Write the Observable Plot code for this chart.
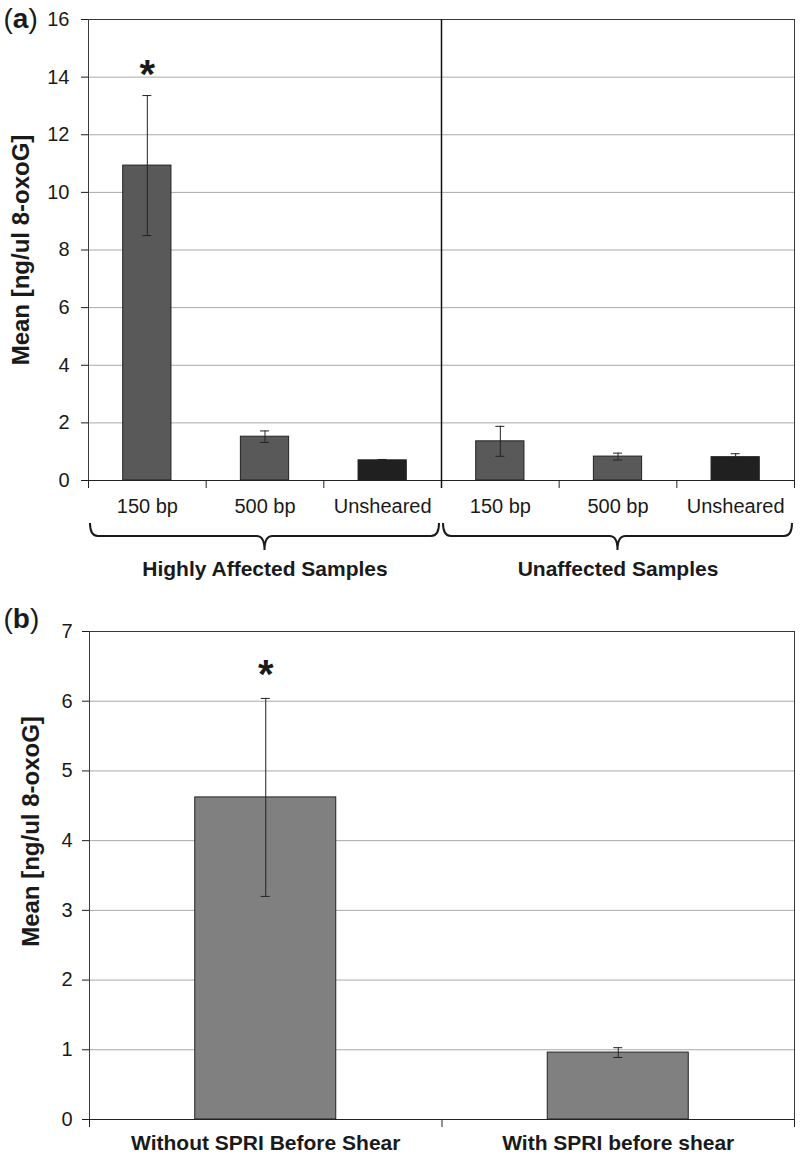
<!DOCTYPE html>
<html>
<head>
<meta charset="utf-8">
<script src="https://cdn.jsdelivr.net/npm/d3@7"></script>
<script src="https://cdn.jsdelivr.net/npm/@observablehq/plot@0.6"></script>
<style>
  body { margin: 0; background: #fff; }
  #wrap { position: relative; width: 800px; height: 1158px; background: #fff; }
  #panelA { position: absolute; left: 0; top: 0; }
  #panelB { position: absolute; left: 0; top: 600px; }
  svg { display: block; }
</style>
</head>
<body>
<div id="wrap"><div id="panelA"></div><div id="panelB"></div></div>
<script>
// ---------- DATA: panel (a) ----------
const groupsA = ["Highly Affected Samples", "Unaffected Samples"];
const sizesA = ["150 bp", "500 bp", "Unsheared"];
const meansA = [10.93, 1.52, 0.70, 1.36, 0.83, 0.81];
const errorsA = [2.43, 0.20, 0.03, 0.52, 0.12, 0.12];
const yTicksA = [0, 2, 4, 6, 8, 10, 12, 14, 16];
const starsA = [{group: "Highly Affected Samples", size: "150 bp", y: 14.05}];
const yLabel = "Mean [ng/ul 8-oxoG]";

// ---------- DATA: panel (b) ----------
const categoriesB = ["Without SPRI Before Shear", "With SPRI before shear"];
const meansB = [4.62, 0.96];
const errorsB = [1.42, 0.07];
const yTicksB = [0, 1, 2, 3, 4, 5, 6, 7];
const starsB = [{category: "Without SPRI Before Shear", y: 6.37}];

// ---------- build tables ----------
const dataA = groupsA.flatMap((g, gi) => sizesA.map((s, si) => ({
  key: g + "|" + s, group: g, size: s,
  mean: meansA[gi * sizesA.length + si], err: errorsA[gi * sizesA.length + si]
})));
const keysA = dataA.map(d => d.key);
const dataB = categoriesB.map((c, i) => ({category: c, mean: meansB[i], err: errorsB[i]}));

const FONT = "'Liberation Sans', Arial, Helvetica, sans-serif";
const INK = "#1a1a1a";
const W = 800;

// ---------- panel (a) ----------
const mLA = 88, mRA = 6, mTA = 19, hA = 595, mBA = hA - 480;
const padA = 0.59, capW = 9;
const stepA = (W - mLA - mRA) / keysA.length;
const bwA = stepA * (1 - padA);

function braces(groups, keys) {
  return (index, scales, values, dims) => {
    const x = scales.x;
    const bw = x.bandwidth(), step = x.step();
    const base = dims.height - dims.marginBottom;
    const yT = base + 43, yM = base + 56, yTip = base + 70, r = 8, inset = 2;
    const g = d3.create("svg:g").attr("fill", "none").attr("stroke", INK).attr("stroke-width", 2);
    groups.forEach(grp => {
      const ks = keys.filter(k => k.startsWith(grp + "|"));
      const x0 = x(ks[0]) + bw / 2 - step / 2 + inset;
      const x1 = x(ks[ks.length - 1]) + bw / 2 + step / 2 - inset;
      const xc = (x0 + x1) / 2;
      g.append("path").attr("d",
        `M${x0},${yT} Q${x0},${yM} ${x0 + r},${yM} L${xc - r},${yM} Q${xc},${yM} ${xc},${yTip} ` +
        `Q${xc},${yM} ${xc + r},${yM} L${x1 - r},${yM} Q${x1},${yM} ${x1},${yT}`);
    });
    return g.node();
  };
}

const chartA = Plot.plot({
  width: W, height: hA,
  marginTop: mTA, marginLeft: mLA, marginRight: mRA, marginBottom: mBA,
  style: {fontFamily: FONT, fontSize: "20px", color: INK, background: "#fff", overflow: "visible"},
  x: {domain: keysA, paddingInner: padA, paddingOuter: padA / 2, round: false},
  y: {domain: [0, 16]},
  color: {domain: sizesA, range: ["#595959", "#595959", "#202020"]},
  marks: [
    Plot.gridY(yTicksA, {stroke: "#a8a8a8", strokeOpacity: 1}),
    Plot.frame({stroke: "#3a3a3a"}),
    Plot.barY(dataA, {x: "key", y: "mean", fill: "size", stroke: "#222", strokeWidth: 1}),
    Plot.ruleX(dataA, {x: "key", y1: d => d.mean - d.err, y2: d => d.mean + d.err, stroke: "#222"}),
    Plot.tickY(dataA, {x: "key", y: d => d.mean + d.err, stroke: "#222", insetLeft: (bwA - capW) / 2, insetRight: (bwA - capW) / 2}),
    Plot.tickY(dataA, {x: "key", y: d => d.mean - d.err, stroke: "#222", insetLeft: (bwA - capW) / 2, insetRight: (bwA - capW) / 2}),
    Plot.ruleY([0], {stroke: "#222"}),
    Plot.ruleX(keysA, {x: d => d, y1: 0, y2: 0, dx: -stepA / 2, insetBottom: -8, stroke: "#222"}),
    Plot.ruleX(keysA.slice(-1), {x: d => d, y1: 0, y2: 0, dx: stepA / 2, insetBottom: -8, stroke: "#222"}),
    Plot.ruleX([keysA[sizesA.length - 1]], {x: d => d, dx: stepA / 2, stroke: "#111", strokeWidth: 1.5, insetBottom: -8}),
    Plot.axisY({ticks: yTicksA, tickSize: 7, tickPadding: 12, fontSize: 20, label: null, tickFormat: d3.format("d")}),
    Plot.axisX({tickSize: 0, tickPadding: 18, fontSize: 20, label: null, tickFormat: k => k.split("|")[1]}),
    braces(groupsA, keysA),
    Plot.text(groupsA, {x: g => g + "|" + sizesA[1], frameAnchor: "bottom", lineAnchor: "middle", dy: 89, fontSize: 21, fontWeight: "bold"}),
    Plot.text(starsA, {x: d => d.group + "|" + d.size, y: "y", text: () => "*", fontSize: 40, fontWeight: "bold", lineAnchor: "middle"}),
    Plot.text([yLabel], {frameAnchor: "left", rotate: -90, dx: -67, fontSize: 24, fontWeight: "bold", lineAnchor: "middle", textAnchor: "middle"}),
    Plot.text(["(a)"], {frameAnchor: "top-left", textAnchor: "start", lineAnchor: "middle", dx: -85, dy: 0, fontSize: 28})
  ]
});
document.getElementById("panelA").append(chartA);

// ---------- panel (b) ----------
const mLB = 89, mRB = 6, mTB = 31, hB = 558, mBB = 39;
const padB = 0.6;
const stepB = (W - mLB - mRB) / categoriesB.length;
const bwB = stepB * (1 - padB);

const chartB = Plot.plot({
  width: W, height: hB,
  marginTop: mTB, marginLeft: mLB, marginRight: mRB, marginBottom: mBB,
  style: {fontFamily: FONT, fontSize: "20px", color: INK, background: "#fff", overflow: "visible"},
  x: {domain: categoriesB, paddingInner: padB, paddingOuter: padB / 2, round: false},
  y: {domain: [0, 7]},
  marks: [
    Plot.gridY(yTicksB, {stroke: "#a8a8a8", strokeOpacity: 1}),
    Plot.frame({stroke: "#3a3a3a"}),
    Plot.barY(dataB, {x: "category", y: "mean", fill: "#808080", stroke: "#222", strokeWidth: 1}),
    Plot.ruleX(dataB, {x: "category", y1: d => d.mean - d.err, y2: d => d.mean + d.err, stroke: "#222"}),
    Plot.tickY(dataB, {x: "category", y: d => d.mean + d.err, stroke: "#222", insetLeft: (bwB - capW) / 2, insetRight: (bwB - capW) / 2}),
    Plot.tickY(dataB, {x: "category", y: d => d.mean - d.err, stroke: "#222", insetLeft: (bwB - capW) / 2, insetRight: (bwB - capW) / 2}),
    Plot.ruleY([0], {stroke: "#222"}),
    Plot.ruleX(categoriesB, {x: d => d, y1: 0, y2: 0, dx: -stepB / 2, insetBottom: -8, stroke: "#222"}),
    Plot.ruleX(categoriesB.slice(-1), {x: d => d, y1: 0, y2: 0, dx: stepB / 2, insetBottom: -8, stroke: "#222"}),
    Plot.axisY({ticks: yTicksB, tickSize: 7, tickPadding: 10, fontSize: 20, label: null, tickFormat: d3.format("d")}),
    Plot.axisX({tickSize: 0, tickPadding: 16, fontSize: 21, fontWeight: "bold", label: null}),
    Plot.text(starsB, {x: "category", y: "y", text: () => "*", fontSize: 40, fontWeight: "bold", lineAnchor: "middle"}),
    Plot.text([yLabel], {frameAnchor: "left", rotate: -90, dx: -58, dy: -44, fontSize: 24, fontWeight: "bold", lineAnchor: "middle", textAnchor: "middle"}),
    Plot.text(["(b)"], {frameAnchor: "top-left", textAnchor: "start", lineAnchor: "middle", dx: -86, dy: -12, fontSize: 28})
  ]
});
document.getElementById("panelB").append(chartB);

// bold letter inside the panel tags, regular parentheses
for (const svg of [chartA, chartB]) {
  d3.select(svg).selectAll("text").filter(function () {
    return /^\([ab]\)$/.test(this.textContent);
  }).each(function () {
    const letter = this.textContent[1];
    const t = d3.select(this).text(null);
    t.append("tspan").text("(");
    t.append("tspan").attr("font-weight", "bold").text(letter);
    t.append("tspan").text(")");
  });
}
</script>
</body>
</html>
